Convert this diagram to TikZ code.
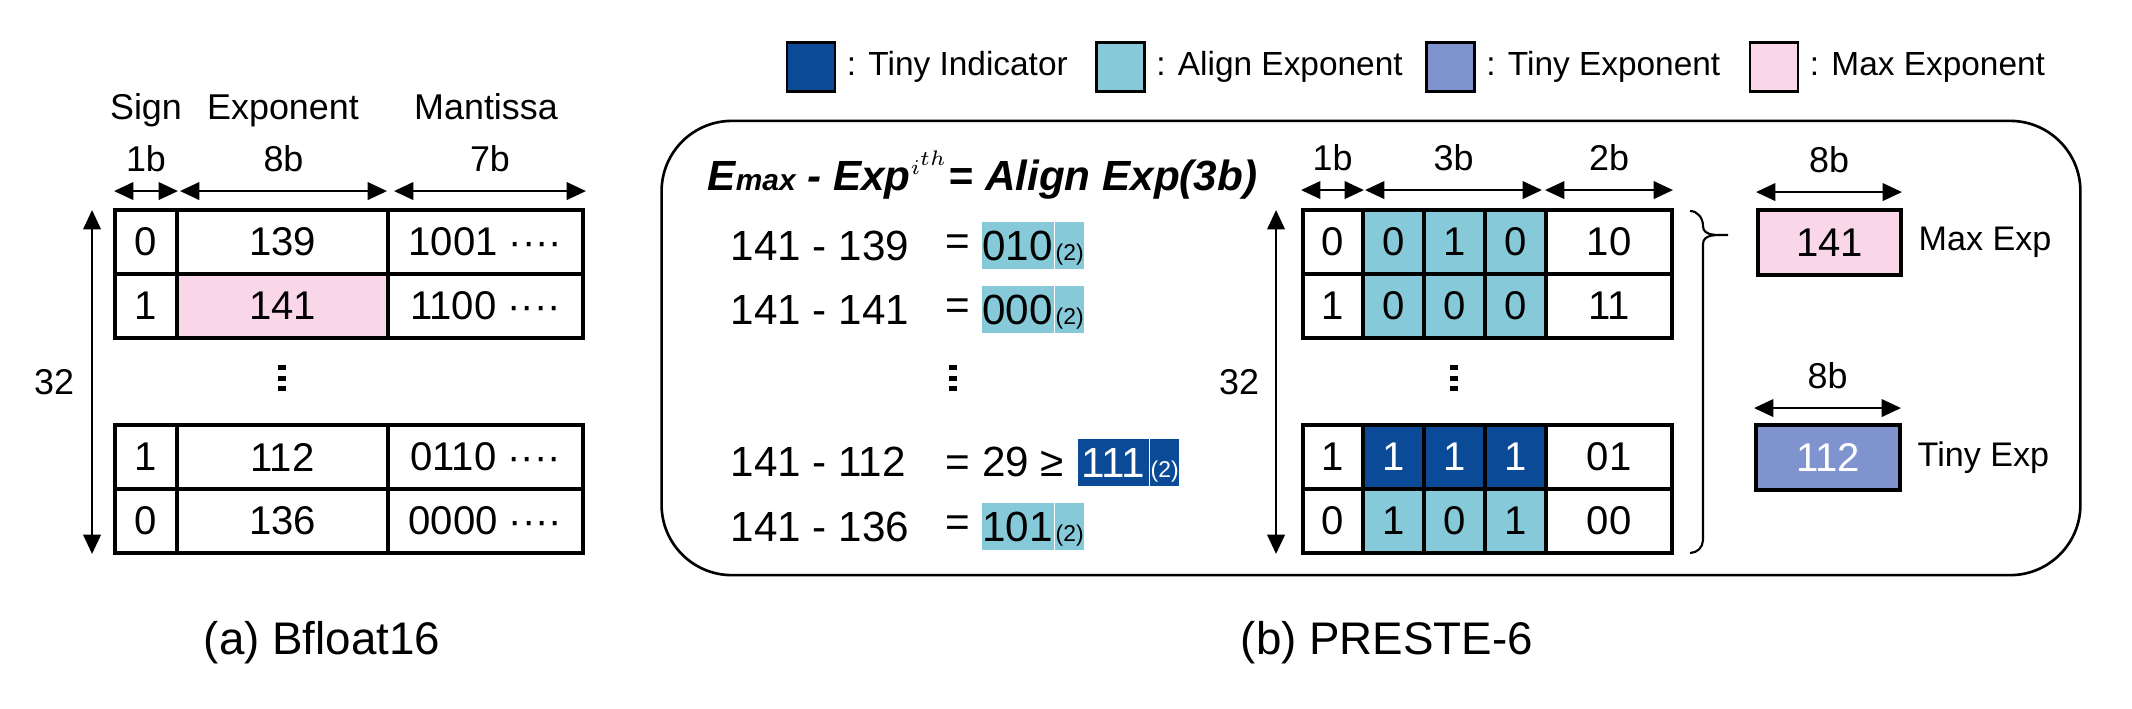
\documentclass[tikz,border=0pt]{standalone}
\usepackage{fontspec}
\setmainfont{Liberation Sans}
\usepackage{xcolor}
\usepackage{tikz}
\usetikzlibrary{arrows.meta}
\usetikzlibrary{positioning}
\definecolor{tinyind}{RGB}{10,74,150}
\definecolor{alnexp}{RGB}{134,202,217}
\definecolor{tinyexp}{RGB}{127,148,207}
\definecolor{maxexp}{RGB}{250,215,232}
\tikzset{
    mycell/.style = {rectangle, draw=black, line width=1.1pt, inner sep=0pt, minimum height=0.64cm, font=\fontsize{11.4}{13}\selectfont},
    mycellp/.style = {mycell, fill=maxexp},
    mycella/.style = {mycell, fill=alnexp},
    mycelli/.style = {mycell, fill=tinyind, text=white},
    mycellt/.style = {mycell, fill=tinyexp, text=white},
    mylabel/.style = {inner sep=0pt, font=\fontsize{10.2}{12}\selectfont},
    dimarrow/.style = {{Triangle[length=5.5pt,width=5pt]}-{Triangle[length=5.5pt,width=5pt]}, line width=0.6pt},
    sqdots/.pic = {
        \fill (-4,-13) rectangle (4,-8);
        \fill (-4,-2.5) rectangle (4,2.5);
        \fill (-4,8) rectangle (4,13);
    },
}
\begin{document}
\begin{tikzpicture}[
	x=0.01cm,
	y=-0.01cm,
	font=\fontsize{11.4}{13}\selectfont
]
\tikzset{
    legbox/.style = {rectangle, draw=black, line width=0.6pt, minimum width=0.48cm, minimum height=0.49cm, inner sep=0pt},
    legtext/.style = {inner sep=0pt, font=\fontsize{9.5}{11}\selectfont},
    myexpr/.style = {anchor=west, inner sep=0pt, font=\fontsize{12}{14}\selectfont},
    mybin/.style = {anchor=west, inner sep=0pt, minimum height=0.47cm, text height=8.6pt, text depth=0pt, font=\fontsize{12}{14}\selectfont},
    mysub/.style = {mybin, minimum width=0.29cm, font=\fontsize{6.5}{7}\selectfont}
}
\useasboundingbox (0,0) rectangle (2132,708);
%
% (a) bfloat16
\node[mylabel, anchor=base] at (146,119) (hs) {Sign};
\node[mylabel, anchor=base] at (283,119) (he) {Exponent};
\node[mylabel, anchor=base] at (486,119) (hm) {Mantissa};
%
\node[mycell, minimum width=0.62cm] at (146,242) (as1) {0};
\node[mycell, minimum width=2.11cm] at (282.5,242) (ae1) {139};
\node[mycell, minimum width=1.95cm] at (485.5,242) (am1) {1001 ····};
\node[mycell, minimum width=0.62cm] at (146,306) (as2) {1};
\node[mycellp, minimum width=2.11cm] at (282.5,306) (ae2) {141};
\node[mycell, minimum width=1.95cm] at (485.5,306) (am2) {1100 ····};
\node[mycell, minimum width=0.62cm] at (146,457) (as3) {1};
\node[mycell, minimum width=2.11cm] at (282.5,457) (ae3) {112};
\node[mycell, minimum width=1.95cm] at (485.5,457) (am3) {0110 ····};
\node[mycell, minimum width=0.62cm] at (146,521) (as4) {0};
\node[mycell, minimum width=2.11cm] at (282.5,521) (ae4) {136};
\node[mycell, minimum width=1.95cm] at (485.5,521) (am4) {0000 ····};
\pic at (282,378) {sqdots};
%
\draw[dimarrow] ([shift={(1,-17)}]as1.north west) -- node[mylabel, above=0.18cm] {1b} ([shift={(-1,-17)}]as1.north east);
\draw[dimarrow] ([shift={(5,-17)}]ae1.north west) -- node[mylabel, above=0.18cm] {8b} ([shift={(-3,-17)}]ae1.north east);
\draw[dimarrow] ([shift={(8,-17)}]am1.north west) -- node[mylabel, above=0.18cm] {7b} ([shift={(1,-17)}]am1.north east);
\draw[dimarrow] ([shift={(-21,2)}]as1.north west) -- node[mylabel, left=0.17cm] {32} ([shift={(-21,-1)}]as4.south west);
%
\node[font=\fontsize{13}{15}\selectfont] at (322,643) (capa) {(a) Bfloat16};
%
% (b) PRESTE-6
\node[legbox, fill=tinyind] at (811,67) (lg1) {};
\node[legtext, right=0.1cm of lg1] (lt1) {: Tiny Indicator};
\node[legbox, fill=alnexp] at (1120.5,67) (lg2) {};
\node[legtext, right=0.1cm of lg2] (lt2) {: Align Exponent};
\node[legbox, fill=tinyexp] at (1450.5,67) (lg3) {};
\node[legtext, right=0.1cm of lg3] (lt3) {: Tiny Exponent};
\node[legbox, fill=maxexp] at (1774,67) (lg4) {};
\node[legtext, right=0.1cm of lg4] (lt4) {: Max Exponent};
%
\node[draw, line width=0.75pt, rounded corners=20pt, minimum width=14.18cm, minimum height=4.54cm, inner sep=0pt] at (1371,348) (frameb) {};
%
\node[anchor=base west, inner sep=0pt, font=\fontsize{12}{14}\selectfont\bfseries\itshape] at (707,190) (eqn)
    {E{\fontsize{8.5}{10}\selectfont max} - Exp$^{\scriptscriptstyle i^{th}}$= Align Exp(3b)};
%
\node[myexpr] at (730,245.5) (x1) {141 - 139};
\node[myexpr] at (945,245.5) (q1) {=};
\node[mybin, fill=alnexp, minimum width=0.72cm] at (981,245.5) (v1) {010};
\node[mysub, fill=alnexp, right=0pt of v1] (w1) {(2)};
\node[myexpr] at (730,309.5) (x2) {141 - 141};
\node[myexpr] at (945,309.5) (q2) {=};
\node[mybin, fill=alnexp, minimum width=0.72cm] at (981,309.5) (v2) {000};
\node[mysub, fill=alnexp, right=0pt of v2] (w2) {(2)};
\pic at (953,378) {sqdots};
\node[myexpr] at (730,462) (x3) {141 - 112};
\node[myexpr] at (945,462) (q3) {= 29 ≥};
\node[mybin, fill=tinyind, text=white, minimum width=0.71cm] at (1077,462) (v3) {111};
\node[mysub, fill=tinyind, text=white, right=0pt of v3] (w3) {(2)};
\node[myexpr] at (730,526.5) (x4) {141 - 136};
\node[myexpr] at (945,526.5) (q4) {=};
\node[mybin, fill=alnexp, minimum width=0.72cm] at (981,526.5) (v4) {101};
\node[mysub, fill=alnexp, right=0pt of v4] (w4) {(2)};
%
\node[mycell, minimum width=0.60cm] at (1333,242) (bs1) {0};
\node[mycella, minimum width=0.61cm] at (1393.5,242) (b11) {0};
\node[mycella, minimum width=0.61cm] at (1454.5,242) (b12) {1};
\node[mycella, minimum width=0.61cm] at (1515.5,242) (b13) {0};
\node[mycell, minimum width=1.26cm] at (1609,242) (bm1) {10};
\node[mycell, minimum width=0.60cm] at (1333,306) (bs2) {1};
\node[mycella, minimum width=0.61cm] at (1393.5,306) (b21) {0};
\node[mycella, minimum width=0.61cm] at (1454.5,306) (b22) {0};
\node[mycella, minimum width=0.61cm] at (1515.5,306) (b23) {0};
\node[mycell, minimum width=1.26cm] at (1609,306) (bm2) {11};
\node[mycell, minimum width=0.60cm] at (1333,457) (bs3) {1};
\node[mycelli, minimum width=0.61cm] at (1393.5,457) (b31) {1};
\node[mycelli, minimum width=0.61cm] at (1454.5,457) (b32) {1};
\node[mycelli, minimum width=0.61cm] at (1515.5,457) (b33) {1};
\node[mycell, minimum width=1.26cm] at (1609,457) (bm3) {01};
\node[mycell, minimum width=0.60cm] at (1333,521) (bs4) {0};
\node[mycella, minimum width=0.61cm] at (1393.5,521) (b41) {1};
\node[mycella, minimum width=0.61cm] at (1454.5,521) (b42) {0};
\node[mycella, minimum width=0.61cm] at (1515.5,521) (b43) {1};
\node[mycell, minimum width=1.26cm] at (1609,521) (bm4) {00};
\pic at (1454,378) {sqdots};
%
\draw[dimarrow] ([shift={(0,-18)}]bs1.north west) -- node[mylabel, above=0.18cm] {1b} ([shift={(-1,-18)}]bs1.north east);
\draw[dimarrow] ([shift={(4,-18)}]b11.north west) -- node[mylabel, above=0.18cm] {3b} ([shift={(-6,-18)}]b13.north east);
\draw[dimarrow] ([shift={(1,-18)}]bm1.north west) -- node[mylabel, above=0.18cm] {2b} ([shift={(-1,-18)}]bm1.north east);
\draw[dimarrow] ([shift={(-25,2)}]bs1.north west) -- node[mylabel, left=0.16cm] {32} ([shift={(-25,-1)}]bs4.south west);
%
\draw[line width=0.6pt] (1690,211) to[out=0,in=90] (1703,226) to[out=-90,in=180] (1728,235)
    to[out=180,in=90] (1703,244) -- (1703,540) to[out=-90,in=0] (1690,553);
%
\node[mycellp, minimum width=1.43cm, minimum height=0.65cm] at (1829.5,242.5) (mx) {141};
\node[mylabel, font=\fontsize{9.7}{11}\selectfont, right=0.15cm of mx] (mxl) {Max Exp};
\node[mycellt, minimum width=1.44cm, minimum height=0.65cm] at (1828,457.5) (ty) {112};
\node[mylabel, font=\fontsize{9.7}{11}\selectfont, right=0.15cm of ty] (tyl) {Tiny Exp};
\draw[dimarrow] ([shift={(0,-16)}]mx.north west) -- node[mylabel, above=0.18cm] {8b} ([shift={(-1,-16)}]mx.north east);
\draw[dimarrow] ([shift={(0,-15)}]ty.north west) -- node[mylabel, above=0.18cm] {8b} ([shift={(-1,-15)}]ty.north east);
%
\node[font=\fontsize{13}{15}\selectfont] at (1387,643) (capb) {(b) PRESTE-6};
\end{tikzpicture}
\end{document}
